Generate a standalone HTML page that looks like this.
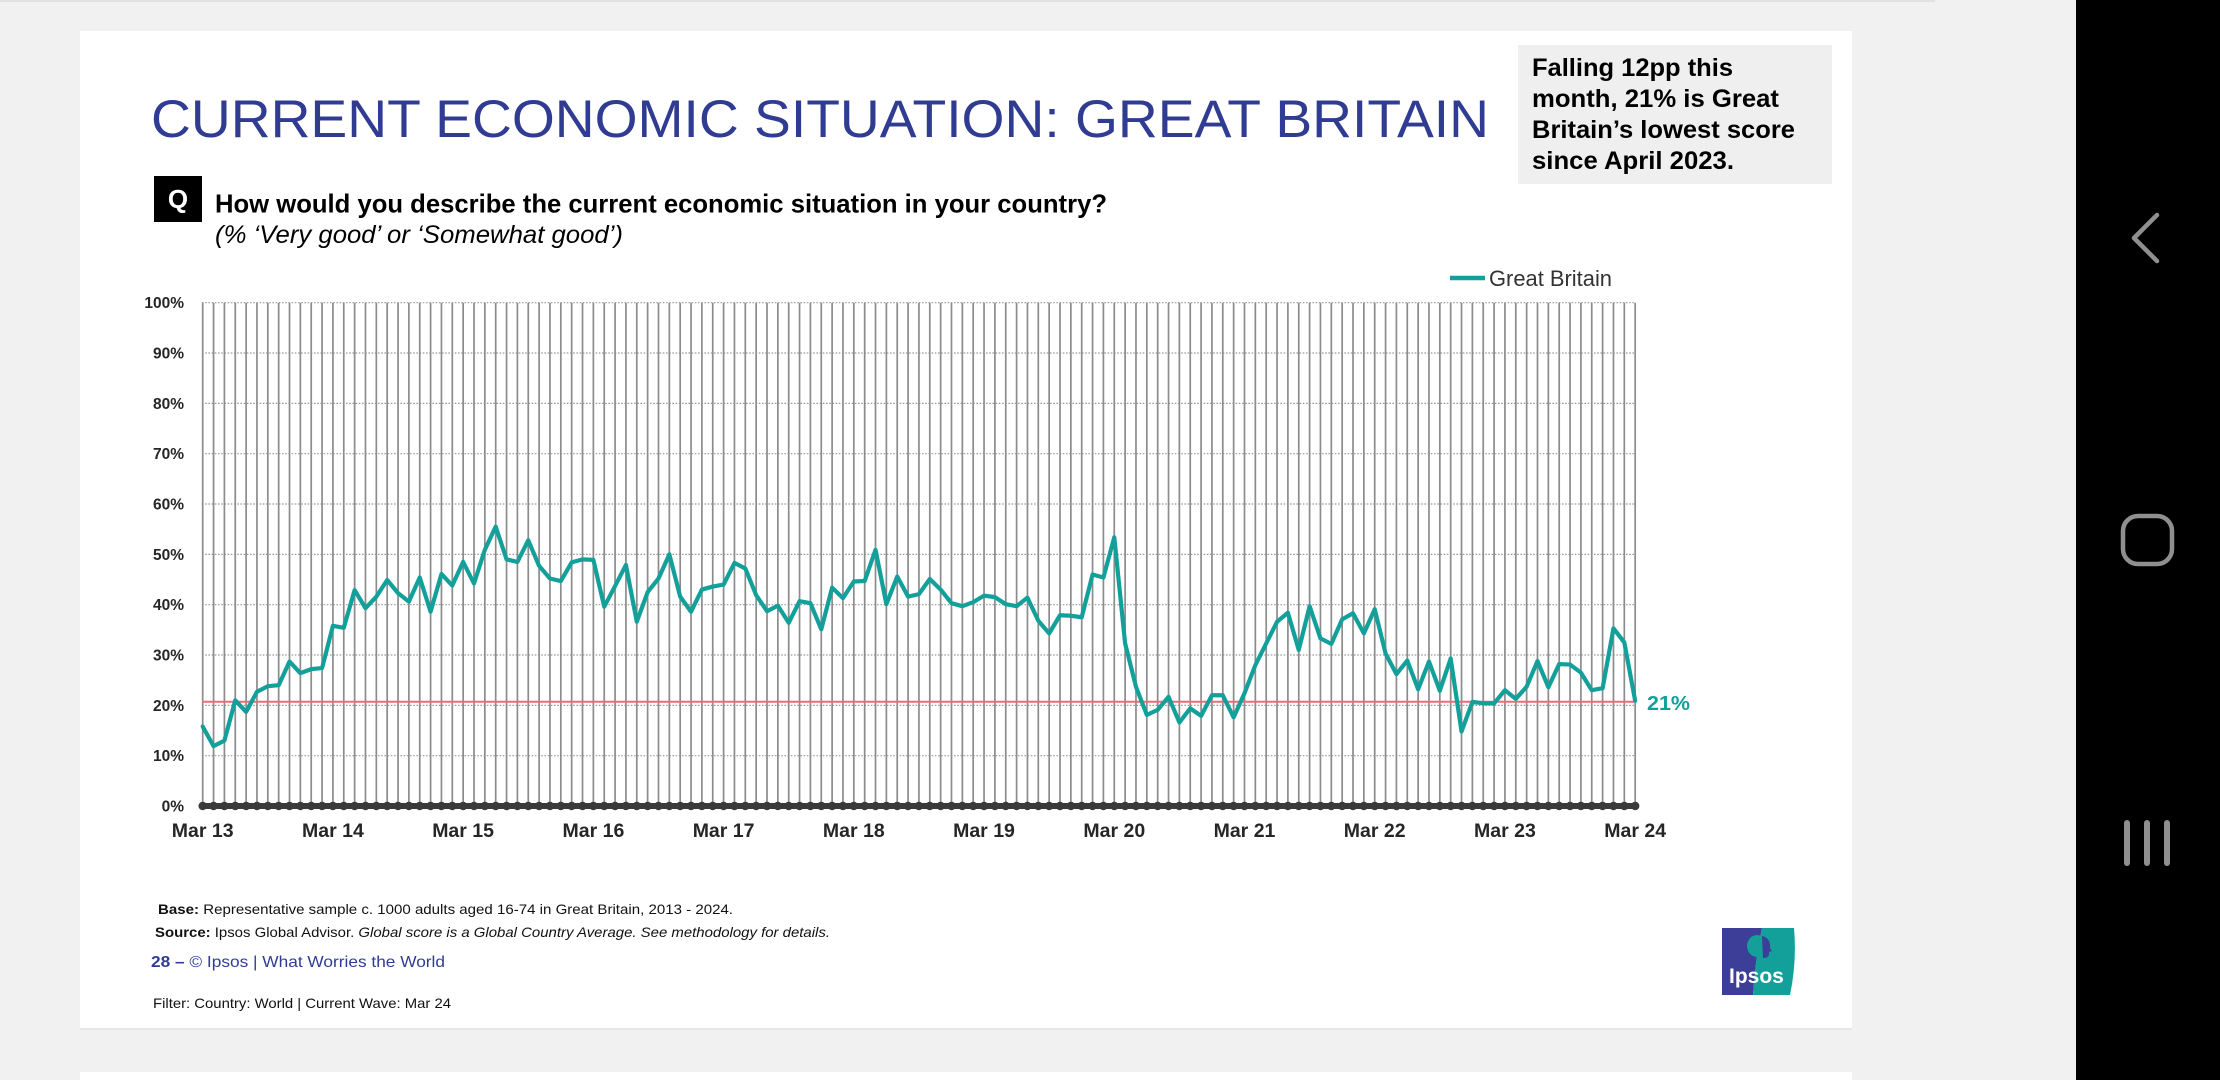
<!DOCTYPE html>
<html><head><meta charset="utf-8"><style>
html,body{margin:0;padding:0;background:#f1f1f1;width:2220px;height:1080px;overflow:hidden}
svg{display:block}
text{font-family:"Liberation Sans",Arial,sans-serif}
</style></head><body>
<svg width="2220" height="1080" viewBox="0 0 2220 1080" xmlns="http://www.w3.org/2000/svg">
<rect x="0" y="0" width="2220" height="1080" fill="#f1f1f1"/>
<rect x="0" y="0" width="1935" height="2" fill="#e2e2e2"/>
<!-- cards -->
<rect x="80" y="33" width="1772" height="997" fill="#e6e6e6"/>
<rect x="80" y="31" width="1772" height="997" fill="#ffffff"/>
<rect x="80" y="1072" width="1772" height="8" fill="#ffffff"/>
<!-- nav bar -->
<rect x="2076" y="0" width="144" height="1080" fill="#000"/>
<polyline points="2157,215 2134,238 2157,261" fill="none" stroke="#8f8f8f" stroke-width="4.5" stroke-linecap="round" stroke-linejoin="round"/>
<rect x="2123" y="516" width="49" height="48" rx="15" fill="none" stroke="#8f8f8f" stroke-width="4.5"/>
<rect x="2124" y="820" width="6" height="46" rx="3" fill="#8f8f8f"/>
<rect x="2144" y="820" width="6" height="46" rx="3" fill="#8f8f8f"/>
<rect x="2164" y="820" width="6" height="46" rx="3" fill="#8f8f8f"/>

<!-- title -->
<text x="151" y="137" font-size="53" fill="#2f3c92" textLength="1338" lengthAdjust="spacingAndGlyphs">CURRENT ECONOMIC SITUATION: GREAT BRITAIN</text>
<!-- callout -->
<rect x="1518" y="45" width="314" height="139" fill="#efefef"/>
<g font-size="25" font-weight="bold" fill="#000">
<text x="1532" y="76" textLength="201" lengthAdjust="spacingAndGlyphs">Falling 12pp this</text>
<text x="1532" y="107" textLength="247" lengthAdjust="spacingAndGlyphs">month, 21% is Great</text>
<text x="1532" y="138" textLength="263" lengthAdjust="spacingAndGlyphs">Britain’s lowest score</text>
<text x="1532" y="169" textLength="202" lengthAdjust="spacingAndGlyphs">since April 2023.</text>
</g>
<!-- question -->
<rect x="154" y="176" width="48" height="46" fill="#000"/>
<text x="178" y="208" font-size="26" font-weight="bold" fill="#fff" text-anchor="middle">Q</text>
<text x="215" y="212.5" font-size="25.6" font-weight="bold" fill="#000" textLength="892" lengthAdjust="spacingAndGlyphs">How would you describe the current economic situation in your country?</text>
<text x="215" y="243" font-size="25" font-style="italic" fill="#000" textLength="408" lengthAdjust="spacingAndGlyphs">(% ‘Very good’ or ‘Somewhat good’)</text>

<!-- legend -->
<line x1="1450" y1="278" x2="1485" y2="278" stroke="#13a09a" stroke-width="4.5"/>
<text x="1489" y="286" font-size="22" fill="#333" textLength="123" lengthAdjust="spacingAndGlyphs">Great Britain</text>

<!-- horizontal dotted gridlines -->
<g stroke="#9a9a9a" stroke-width="1.2" stroke-dasharray="1.6 1.6">
<line x1="202" y1="302.7" x2="1635" y2="302.7"/>
<line x1="202" y1="353.03" x2="1635" y2="353.03"/>
<line x1="202" y1="403.36" x2="1635" y2="403.36"/>
<line x1="202" y1="453.69" x2="1635" y2="453.69"/>
<line x1="202" y1="504.02" x2="1635" y2="504.02"/>
<line x1="202" y1="554.35" x2="1635" y2="554.35"/>
<line x1="202" y1="604.68" x2="1635" y2="604.68"/>
<line x1="202" y1="655.01" x2="1635" y2="655.01"/>
<line x1="202" y1="705.34" x2="1635" y2="705.34"/>
<line x1="202" y1="755.67" x2="1635" y2="755.67"/>
</g>
<!-- vertical lines -->
<path transform="translate(202.7 806) scale(10.852 -5.033)" vector-effect="non-scaling-stroke" stroke="#8c8c8c" stroke-width="1.7" fill="none" d="M0 0v100
m1-100v100m1-100v100m1-100v100m1-100v100m1-100v100m1-100v100m1-100v100m1-100v100m1-100v100m1-100v100m1-100v100m1-100v100
m1-100v100m1-100v100m1-100v100m1-100v100m1-100v100m1-100v100m1-100v100m1-100v100m1-100v100m1-100v100m1-100v100m1-100v100
m1-100v100m1-100v100m1-100v100m1-100v100m1-100v100m1-100v100m1-100v100m1-100v100m1-100v100m1-100v100m1-100v100m1-100v100
m1-100v100m1-100v100m1-100v100m1-100v100m1-100v100m1-100v100m1-100v100m1-100v100m1-100v100m1-100v100m1-100v100m1-100v100
m1-100v100m1-100v100m1-100v100m1-100v100m1-100v100m1-100v100m1-100v100m1-100v100m1-100v100m1-100v100m1-100v100m1-100v100
m1-100v100m1-100v100m1-100v100m1-100v100m1-100v100m1-100v100m1-100v100m1-100v100m1-100v100m1-100v100m1-100v100m1-100v100
m1-100v100m1-100v100m1-100v100m1-100v100m1-100v100m1-100v100m1-100v100m1-100v100m1-100v100m1-100v100m1-100v100m1-100v100
m1-100v100m1-100v100m1-100v100m1-100v100m1-100v100m1-100v100m1-100v100m1-100v100m1-100v100m1-100v100m1-100v100m1-100v100
m1-100v100m1-100v100m1-100v100m1-100v100m1-100v100m1-100v100m1-100v100m1-100v100m1-100v100m1-100v100m1-100v100m1-100v100
m1-100v100m1-100v100m1-100v100m1-100v100m1-100v100m1-100v100m1-100v100m1-100v100m1-100v100m1-100v100m1-100v100m1-100v100
m1-100v100m1-100v100m1-100v100m1-100v100m1-100v100m1-100v100m1-100v100m1-100v100m1-100v100m1-100v100m1-100v100m1-100v100"/>
<!-- red reference line -->
<line x1="202" y1="701.7" x2="1635" y2="701.7" stroke="#e66f7a" stroke-width="2"/>
<!-- bottom axis -->
<line x1="202.7" y1="806" x2="1635.2" y2="806" stroke="#3a3a3a" stroke-width="6" stroke-linecap="round"/>
<line x1="202.7" y1="806" x2="1636" y2="806" stroke="#3a3a3a" stroke-width="8.5" stroke-linecap="round" stroke-dasharray="0 10.852"/>
<!-- series -->
<polyline transform="translate(202.7 806) scale(10.852 -5.033)" vector-effect="non-scaling-stroke" fill="none" stroke="#13a09a" stroke-width="4.2" stroke-linejoin="round" stroke-linecap="round" points="
0,15.8 1,11.9 2,13 3,21 4,18.7 5,22.7 6,23.8 7,24 8,28.7 9,26.4 10,27.2 11,27.4
12,35.8 13,35.4 14,42.9 15,39.3 16,41.6 17,44.9 18,42.3 19,40.6 20,45.4 21,38.6 22,46.1 23,43.8
24,48.5 25,44.2 26,50.9 27,55.5 28,49 29,48.5 30,52.8 31,47.7 32,45.2 33,44.7 34,48.4 35,49
36,48.9 37,39.6 38,43.7 39,47.9 40,36.6 41,42.5 42,45.2 43,50 44,41.6 45,38.6 46,43 47,43.6
48,44 49,48.3 50,47.2 51,41.9 52,38.7 53,39.8 54,36.4 55,40.7 56,40.3 57,35.1 58,43.4 59,41.3
60,44.6 61,44.7 62,50.9 63,40.1 64,45.6 65,41.6 66,42.1 67,45.1 68,43 69,40.3 70,39.7 71,40.5
72,41.8 73,41.5 74,40.1 75,39.7 76,41.4 77,36.8 78,34.3 79,37.9 80,37.8 81,37.5 82,46 83,45.4
84,53.4 85,32.3 86,23.7 87,18.1 88,19.1 89,21.7 90,16.6 91,19.4 92,17.9 93,22 94,22 95,17.6
96,22.4 97,28 98,32.3 99,36.6 100,38.4 101,31 102,39.7 103,33.3 104,32.2 105,37.1 106,38.3 107,34.3
108,39.1 109,30.3 110,26.2 111,28.9 112,23.2 113,28.7 114,22.9 115,29.3 116,14.8 117,20.7 118,20.4 119,20.4
120,23 121,21.3 122,23.7 123,28.8 124,23.6 125,28.2 126,28.1 127,26.5 128,23 129,23.4 130,35.3 131,32.5
132,20.9"/>
<text x="1647" y="710" font-size="20.5" font-weight="bold" fill="#13a09a" textLength="43" lengthAdjust="spacingAndGlyphs">21%</text>

<!-- y labels -->
<g font-size="15.5" font-weight="bold" fill="#262626" text-anchor="end">
<text x="184" y="308.2">100%</text>
<text x="184" y="358.5">90%</text>
<text x="184" y="408.9">80%</text>
<text x="184" y="459.2">70%</text>
<text x="184" y="509.5">60%</text>
<text x="184" y="559.9">50%</text>
<text x="184" y="610.2">40%</text>
<text x="184" y="660.5">30%</text>
<text x="184" y="710.8">20%</text>
<text x="184" y="761.2">10%</text>
<text x="184" y="811.5">0%</text>
</g>
<!-- x labels -->
<g font-size="19.5" font-weight="bold" fill="#262626" text-anchor="middle">
<text x="202.7" y="837">Mar 13</text>
<text x="332.9" y="837">Mar 14</text>
<text x="463.1" y="837">Mar 15</text>
<text x="593.4" y="837">Mar 16</text>
<text x="723.6" y="837">Mar 17</text>
<text x="853.8" y="837">Mar 18</text>
<text x="984.0" y="837">Mar 19</text>
<text x="1114.3" y="837">Mar 20</text>
<text x="1244.5" y="837">Mar 21</text>
<text x="1374.7" y="837">Mar 22</text>
<text x="1504.9" y="837">Mar 23</text>
<text x="1635.2" y="837">Mar 24</text>
</g>

<!-- footer -->
<text x="158" y="914" font-size="14" fill="#111" textLength="575" lengthAdjust="spacingAndGlyphs"><tspan font-weight="bold">Base:</tspan> Representative sample c. 1000 adults aged 16-74 in Great Britain, 2013 - 2024.</text>
<text x="155" y="937" font-size="14" fill="#111" textLength="675" lengthAdjust="spacingAndGlyphs"><tspan font-weight="bold">Source:</tspan> Ipsos Global Advisor. <tspan font-style="italic">Global score is a Global Country Average. See methodology for details.</tspan></text>
<text x="151" y="967" font-size="16" fill="#2f3c92" textLength="294" lengthAdjust="spacingAndGlyphs"><tspan font-weight="bold">28 –</tspan>  © Ipsos | What Worries the World</text>
<text x="153" y="1008" font-size="14" fill="#111" textLength="298" lengthAdjust="spacingAndGlyphs">Filter: Country: World | Current Wave: Mar 24</text>

<!-- Ipsos logo -->
<path d="M1722 928 H1762 Q1755 962 1753 995 H1722 Z" fill="#3c3e97"/>
<path d="M1762 928 H1794 Q1797 962 1790 995 H1753 Q1755 962 1762 928 Z" fill="#13a09a"/>
<ellipse cx="1757" cy="946" rx="10" ry="11" fill="#13a09a"/>
<path d="M1762 936 q9 2 8 12 l2 3 -3 1 q1 6 -6 6 z" fill="#3c3e97"/>
<text x="1729" y="983" font-size="21" font-weight="bold" fill="#fff">Ipsos</text>
</svg>
</body></html>
